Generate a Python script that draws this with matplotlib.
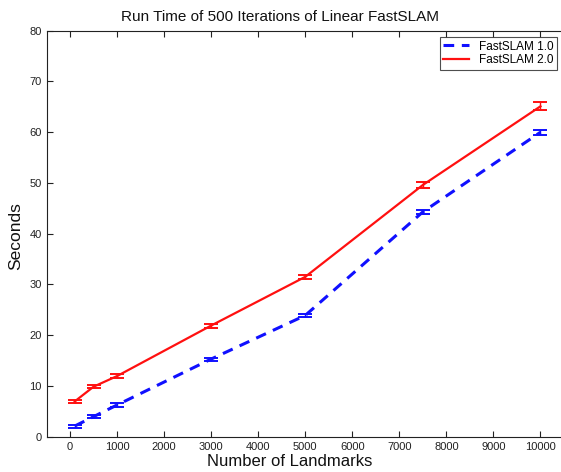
import matplotlib
matplotlib.use("Agg")
import matplotlib.pyplot as plt
from matplotlib.lines import Line2D

landmarks = [100, 500, 1000, 3000, 5000, 7500, 10000]
fs1 = [2.1, 3.95, 6.25, 15.3, 23.9, 44.3, 60.0]
fs1_err = [0.3, 0.3, 0.3, 0.3, 0.3, 0.4, 0.5]
fs2 = [6.95, 9.85, 11.95, 21.9, 31.5, 49.6, 65.1]
fs2_err = [0.3, 0.3, 0.4, 0.4, 0.4, 0.6, 0.8]

plt.rcParams['font.family'] = ['Liberation Sans', 'DejaVu Sans']

W, H = 561, 472
fig = plt.figure(figsize=(W/100, H/100), dpi=100)
left, right, top, bottom = 46.5, 564, 30.7, 436.7
ax = fig.add_axes([left/W, 1-bottom/H, (right-left)/W, (bottom-top)/H])

blue = '#1010ff'
red = '#ff1010'
dash = (0, (3.5, 2.5))
ax.errorbar(landmarks, fs1, yerr=fs1_err, color=blue, lw=2.2,
            linestyle=dash, capsize=5, elinewidth=1.0, capthick=1.4)
ax.errorbar(landmarks, fs2, yerr=fs2_err, color=red, lw=1.6,
            linestyle='-', capsize=5, elinewidth=1.0, capthick=1.4)

ax.set_xlim(-500, 10500)
ax.set_ylim(0, 80)
ax.set_xticks(range(0, 10001, 1000))
ax.set_yticks(range(0, 81, 10))
ax.tick_params(direction='in', top=True, right=False, labelsize=8, length=4, width=0.8,
               colors='#222222', labelcolor='#222222')
for s in ax.spines.values():
    s.set_linewidth(0.8)
    s.set_color('#222222')

fig.text(280/W, 1-17/H, 'Run Time of 500 Iterations of Linear FastSLAM', fontsize=11,
         ha='center', va='center', color='#111111')
fig.text(290/W, 1-462/H, 'Number of Landmarks', fontsize=12, ha='center', va='center',
         color='#111111')
fig.text(16/W, 1-236/H, 'Seconds', fontsize=12.5, ha='center', va='center', rotation=90,
         color='#111111')

handles = [Line2D([], [], color=blue, lw=2.2, linestyle=dash),
           Line2D([], [], color=red, lw=1.6)]
leg = ax.legend(handles, ['FastSLAM 1.0', 'FastSLAM 2.0'], loc='upper right',
                bbox_to_anchor=((557-left)/(right-left), 1-(37-top)/(bottom-top)),
                fontsize=8.5, frameon=True, fancybox=False, borderpad=0.3,
                handlelength=2.2, labelspacing=0.15, borderaxespad=0, handletextpad=0.8)
leg.get_frame().set_edgecolor('#222222')
leg.get_frame().set_linewidth(0.8)

fig.savefig('out.png', dpi=100)
